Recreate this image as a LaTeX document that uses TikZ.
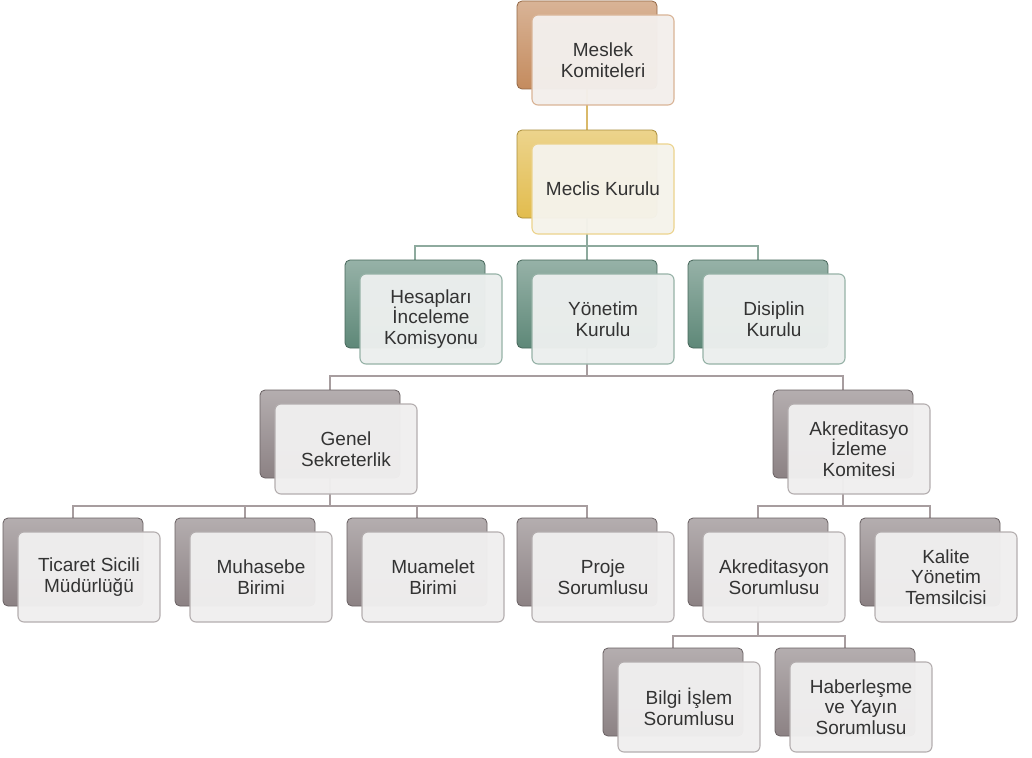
\documentclass[tikz,border=0pt]{standalone}
\usepackage{fontspec}
\setmainfont{Liberation Sans}
\usetikzlibrary{backgrounds}
\definecolor{cbrown}{HTML}{C48B5E}
\definecolor{cgold}{HTML}{E2BC4E}
\definecolor{cteal}{HTML}{5E8878}
\definecolor{cgray}{HTML}{8C8284}
\definecolor{lgold}{HTML}{D9B96A}
\definecolor{lteal}{HTML}{8EAA9E}
\definecolor{lgray}{HTML}{A79D9F}
\definecolor{txt}{HTML}{333333}
\tikzset{
  backbox/.style={rectangle, rounded corners=5pt, minimum width=140pt, minimum height=88pt,
    inner sep=0pt, draw=#1!75!black, line width=0.8pt, top color=#1!65!white, bottom color=#1},
  frontbox/.style={rectangle, rounded corners=6pt, minimum width=142pt, minimum height=90pt,
    inner sep=0pt, draw=#1!65!white, line width=1.1pt, fill=#1!7!white!97!black, fill opacity=0.97,
    text opacity=1, text=txt, align=center, font=\fontsize{19}{20.5}\selectfont},
  conn/.style={line width=1.7pt, draw=#1}
}
\newcommand\orgbox[5]{%
  \node[backbox=#4] (#1-b) at (#2+70,#3+44) {};
  \node[frontbox=#4] (#1) at (#2+86,#3+59) {#5};
}
\begin{document}
\begin{tikzpicture}[x=1pt,y=-1pt]
\useasboundingbox (0,0) rectangle (1032,757);
\orgbox{mk}{517}{1}{cbrown}{Meslek\\Komiteleri}
\orgbox{mc}{517}{130}{cgold}{Meclis Kurulu}
\orgbox{hes}{345}{260}{cteal}{Hesapları\\İnceleme\\Komisyonu}
\orgbox{yon}{517}{260}{cteal}{Yönetim\\Kurulu}
\orgbox{dis}{688}{260}{cteal}{Disiplin\\Kurulu}
\orgbox{gs}{260}{390}{cgray}{Genel\\Sekreterlik}
\orgbox{aik}{773}{390}{cgray}{Akreditasyo\\İzleme\\Komitesi}
\orgbox{tic}{3}{518}{cgray}{Ticaret Sicili\\Müdürlüğü}
\orgbox{muh}{175}{518}{cgray}{Muhasebe\\Birimi}
\orgbox{mua}{347}{518}{cgray}{Muamelet\\Birimi}
\orgbox{pro}{517}{518}{cgray}{Proje\\Sorumlusu}
\orgbox{aks}{688}{518}{cgray}{Akreditasyon\\Sorumlusu}
\orgbox{kal}{860}{518}{cgray}{Kalite\\Yönetim\\Temsilcisi}
\orgbox{bil}{603}{648}{cgray}{Bilgi İşlem\\Sorumlusu}
\orgbox{hab}{775}{648}{cgray}{Haberleşme\\ve Yayın\\Sorumlusu}
\coordinate (b1) at (0,246);
\coordinate (b2) at (0,376);
\coordinate (b3) at (0,506);
\coordinate (b4) at (0,636);
\begin{scope}[on background layer]
\fill[white] (0,0) rectangle (1032,757);
\draw[conn=lgold] (mk-b.south) -- (mc-b.north);
\draw[conn=lteal] (mc-b.south) -- (mc-b.south |- b1) -| (hes-b.north);
\draw[conn=lteal] (mc-b.south |- b1) -| (dis-b.north);
\draw[conn=lteal] (mc-b.south |- b1) -- (yon-b.north);
\draw[conn=lgray] (yon-b.south) -- (yon-b.south |- b2) -| (gs-b.north);
\draw[conn=lgray] (yon-b.south |- b2) -| (aik-b.north);
\draw[conn=lgray] (gs-b.south) -- (gs-b.south |- b3) -| (tic-b.north);
\draw[conn=lgray] (gs-b.south |- b3) -| (pro-b.north);
\draw[conn=lgray] (muh-b.north |- b3) -- (muh-b.north);
\draw[conn=lgray] (mua-b.north |- b3) -- (mua-b.north);
\draw[conn=lgray] (aik-b.south) -- (aik-b.south |- b3) -| (aks-b.north);
\draw[conn=lgray] (aik-b.south |- b3) -| (kal-b.north);
\draw[conn=lgray] (aks-b.south) -- (aks-b.south |- b4) -| (bil-b.north);
\draw[conn=lgray] (aks-b.south |- b4) -| (hab-b.north);
\end{scope}
\end{tikzpicture}
\end{document}
